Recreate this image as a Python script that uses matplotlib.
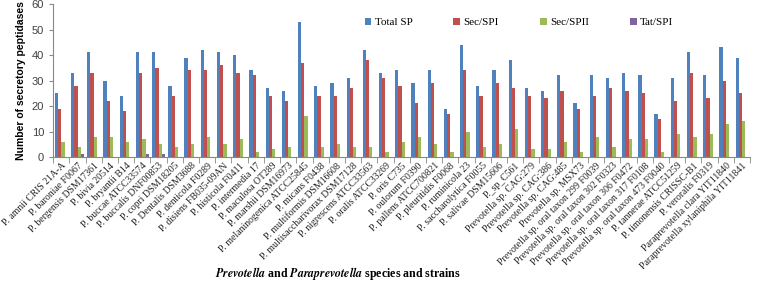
import numpy as np
import matplotlib
matplotlib.use("Agg")
import matplotlib.pyplot as plt

plt.rcParams["mathtext.fontset"] = "stix"

# Strain names (x axis)
strains = [
    "P. amnii CRIS 21A-A", "P. baroniae F0067", "P. bergensis DSM17361",
    "P. bivia 20514", "P. bryantii B14", "P. buccae ATCC33574",
    "P. buccalis DNF00853", "P. copri DSM18205", "P. Dentalis DSM3688",
    "P. denticola F0289", "P. disiens FB035-09AN", "P. histicola F0411",
    "P. intermedia 17", "P. maculosa OT289", "P. marshii DSM16973",
    "P. melaninogenica ATCC25845", "P. micans F0438", "P. multiformis DSM16608",
    "P. multisaccharivorax DSM17128", "P. nigrescens ATCC33563",
    "P. oralis ATCC33269", "P. oris C735", "P. oulorum F0390",
    "P. pallens ATCC700821", "P. pleuritidis F0068", "P. ruminicola 23",
    "P. saccharolytica F0055", "P. salivae DSM15606", "P._sp_C561",
    "Prevotella sp. CAG:279", "Prevotella sp. CAG:386", "Prevotella sp. CAG:485",
    "Prevotella sp. MSX73", "Prevotella sp. oral taxon 299 F0039",
    "Prevotella sp. oral taxon 302 F0323", "Prevotella sp. oral taxon 306 F0472",
    "Prevotella sp. oral taxon 317 F0108", "Prevotella sp. oral taxon 473 F0040",
    "P. tannerae ATCC51259", "P. timonensis CRISSC-B1", "P. veroralis F0319",
    "Paraprevotella clara YIT11840", "Paraprevotella xylaniphila YIT11841",
]

total_sp = [25, 33, 41, 30, 24, 41, 41, 28, 39, 42, 41, 40, 34, 27, 26, 53,
            28, 29, 31, 42, 33, 34, 29, 34, 19, 44, 28, 34, 38, 27, 26, 32,
            21, 32, 31, 33, 32, 17, 31, 41, 32, 43, 39]
sec_spi = [19, 28, 33, 22, 18, 33, 35, 24, 34, 34, 36, 33, 32, 24, 22, 37,
           24, 24, 27, 38, 31, 28, 21, 29, 17, 34, 24, 29, 27, 24, 23, 26,
           19, 24, 27, 26, 25, 15, 22, 33, 23, 30, 25]
sec_spii = [6, 4, 8, 8, 6, 7, 5, 4, 5, 8, 5, 7, 2, 3, 4, 16,
            4, 5, 4, 4, 2, 6, 8, 5, 2, 10, 4, 5, 11, 3, 3, 6,
            2, 8, 4, 7, 7, 2, 9, 8, 9, 13, 14]
tat_spi = [0, 1, 0, 0, 0, 1, 1, 0, 0, 0, 0, 0, 0, 0, 0, 0,
           0, 0, 0, 0, 0, 0, 0, 0, 0, 0, 0, 0, 0, 0, 0, 0,
           0, 0, 0, 0, 0, 0, 0, 0, 0, 0, 0]

series = [
    ("Total SP", total_sp, "#4F81BD"),
    ("Sec/SPI", sec_spi, "#C0504D"),
    ("Sec/SPII", sec_spii, "#9BBB59"),
    ("Tat/SPI", tat_spi, "#8064A2"),
]

fig = plt.figure(figsize=(7.6, 2.86), dpi=100)
ax = fig.add_axes([0.070, 0.451, 0.917, 0.535])

x = np.arange(len(strains))
w = 0.2
for i, (name, vals, col) in enumerate(series):
    ax.bar(x + (i - 1.5) * w, vals, width=w, color=col, label=name)

ax.set_xlim(-0.5, len(strains) - 0.5)
ax.set_ylim(0, 60)
ax.set_yticks(range(0, 61, 10))
ax.tick_params(axis="y", labelsize=8, colors="#404040", length=3,
               color="#888888")
for lab in ax.get_yticklabels():
    lab.set_fontfamily("Liberation Sans")

# category separators as ticks, labels at centres
ax.set_xticks(np.arange(-0.5, len(strains), 1), minor=True)
ax.set_xticks(x)
ax.set_xticklabels(strains, rotation=45, ha="right", rotation_mode="anchor",
                   fontsize=7, family="Liberation Serif", color="#222222")
ax.tick_params(axis="x", which="major", length=0, pad=3)
ax.tick_params(axis="x", which="minor", length=4, color="#888888")

for s in ["top", "right"]:
    ax.spines[s].set_visible(False)
ax.spines["left"].set_color("#888888")
ax.spines["bottom"].set_color("#888888")

ax.set_ylabel("Number of secretory peptidases", fontsize=7.5,
              fontweight="bold", family="Liberation Sans", labelpad=4)

fig.text(0.445, 0.032,
         r"$\mathbfit{Prevotella}$ and $\mathbfit{Paraprevotella}$ species and strains",
         ha="center", fontsize=8.6, fontweight="bold", family="Liberation Serif")

ax.legend(loc="center", bbox_to_anchor=(0.668, 0.88), ncol=4, frameon=False,
          prop={"family": "Liberation Serif", "size": 8},
          handlelength=0.6, handleheight=0.6, handletextpad=0.3,
          columnspacing=3.7)

fig.savefig("out.png", dpi=100)
